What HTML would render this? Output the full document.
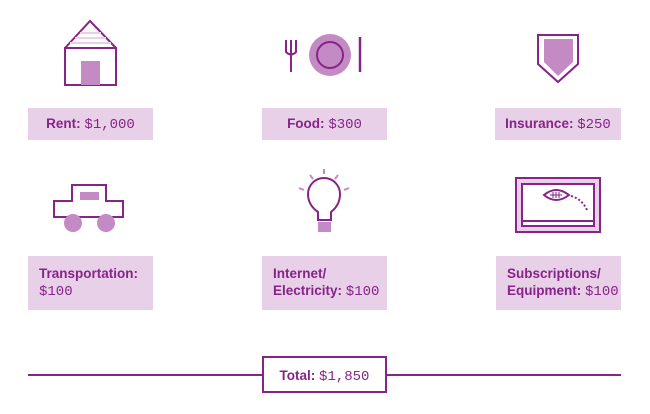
<!DOCTYPE html>
<html><head><meta charset="utf-8"><style>
body{margin:0;width:650px;height:414px;background:#fff;position:relative;overflow:hidden;font-family:"Liberation Sans",sans-serif}
.box{position:absolute;background:#e8d0e8;color:#862487;font-size:13.5px;box-sizing:border-box}
.box b{font-weight:bold}
.box .m{font-family:"Liberation Mono",monospace;font-weight:normal;font-size:14px}
.r1{height:32px;line-height:32px;text-align:center}
.r2{height:54px;padding:9px 0 0 11px;line-height:17px}
svg{position:absolute;left:0;top:0}
</style></head><body>
<svg width="650" height="414">
<g fill="none" stroke="#862487" stroke-width="2">
<rect x="65" y="48" width="51" height="37"/>
<polyline points="65,48 90,21 116,48"/>
<rect x="81" y="61" width="19" height="24" fill="#c48ac4" stroke="none"/>
<line x1="80" y1="33" x2="101" y2="33" stroke="#e8d0e8" stroke-width="2"/>
<line x1="75" y1="38" x2="106" y2="38" stroke="#e8d0e8" stroke-width="2"/>
<line x1="70" y1="43" x2="111" y2="43" stroke="#e8d0e8" stroke-width="2"/>
</g>
<g fill="none" stroke="#862487" stroke-width="2">
<path d="M286,40 v12 q5,5 10,0 v-12 M291,40 v32"/>
<circle cx="330" cy="55" r="21" fill="#c48ac4" stroke="none"/>
<circle cx="330" cy="55" r="13"/>
<path d="M360,37 v35" stroke-width="2.5"/>
</g>
<g>
<path d="M538,35 H578 V64 L558,82 L538,64 Z" fill="none" stroke="#862487" stroke-width="2"/>
<path d="M544,39 H573 V62 L558,76 L544,62 Z" fill="#c48ac4"/>
</g>
<g fill="none" stroke="#862487" stroke-width="2">
<path d="M54,217 V201 H72 V185 H106 V201 H123 V217 Z"/>
<rect x="80" y="192" width="19" height="8" fill="#c48ac4" stroke="none"/>
<circle cx="73" cy="223" r="9" fill="#c48ac4" stroke="none"/>
<circle cx="106" cy="223" r="9" fill="#c48ac4" stroke="none"/>
</g>
<g fill="none" stroke="#862487" stroke-width="2">
<path d="M318,220 V212 Q308,205 308,194 A16,16 0 1 1 340,194 Q340,205 331,212 V220 Z"/>
<rect x="318" y="222" width="13" height="10" fill="#c48ac4" stroke="none"/>
<g stroke="#c48ac4"><line x1="324" y1="169" x2="324" y2="174"/><line x1="310" y1="175" x2="313" y2="179"/><line x1="338" y1="175" x2="335" y2="179"/><line x1="299" y1="188" x2="304" y2="190"/><line x1="349" y1="188" x2="344" y2="190"/></g>
</g>
<g fill="none" stroke="#862487" stroke-width="2">
<rect x="516" y="178" width="84" height="54" fill="#e8d0e8"/>
<rect x="522" y="184" width="72" height="42" fill="#fff"/>
<line x1="522" y1="221" x2="594" y2="221"/>
<path d="M544,195 Q556,185 569,195 Q556,205 544,195 Z"/>
<path d="M550,195 h12 M553,192 v6 M556,192 v6 M559,192 v6" stroke-width="1"/>
<path d="M571,196 Q582,199 587,210" stroke-dasharray="2,2"/>
</g>
<g stroke="#862487" stroke-width="2">
<line x1="28" y1="375" x2="262" y2="375"/><line x1="387" y1="375" x2="621" y2="375"/>
</g>
</svg>
<div class="box r1" style="left:28px;top:108px;width:125px"><b>Rent:</b> <span class="m">$1,000</span></div>
<div class="box r1" style="left:262px;top:108px;width:125px"><b>Food:</b> <span class="m">$300</span></div>
<div class="box r1" style="left:495px;top:108px;width:126px"><b>Insurance:</b> <span class="m">$250</span></div>
<div class="box r2" style="left:28px;top:256px;width:125px"><b>Transportation:</b><br><span class="m">$100</span></div>
<div class="box r2" style="left:262px;top:256px;width:125px"><b>Internet/</b><br><b>Electricity:</b> <span class="m">$100</span></div>
<div class="box r2" style="left:496px;top:256px;width:125px"><b>Subscriptions/</b><br><b>Equipment:</b> <span class="m">$100</span></div>
<div class="box r1" style="left:262px;top:356px;width:125px;height:37px;line-height:35px;background:#fff;border:2px solid #862487"><b>Total:</b> <span class="m">$1,850</span></div>
</body></html>
